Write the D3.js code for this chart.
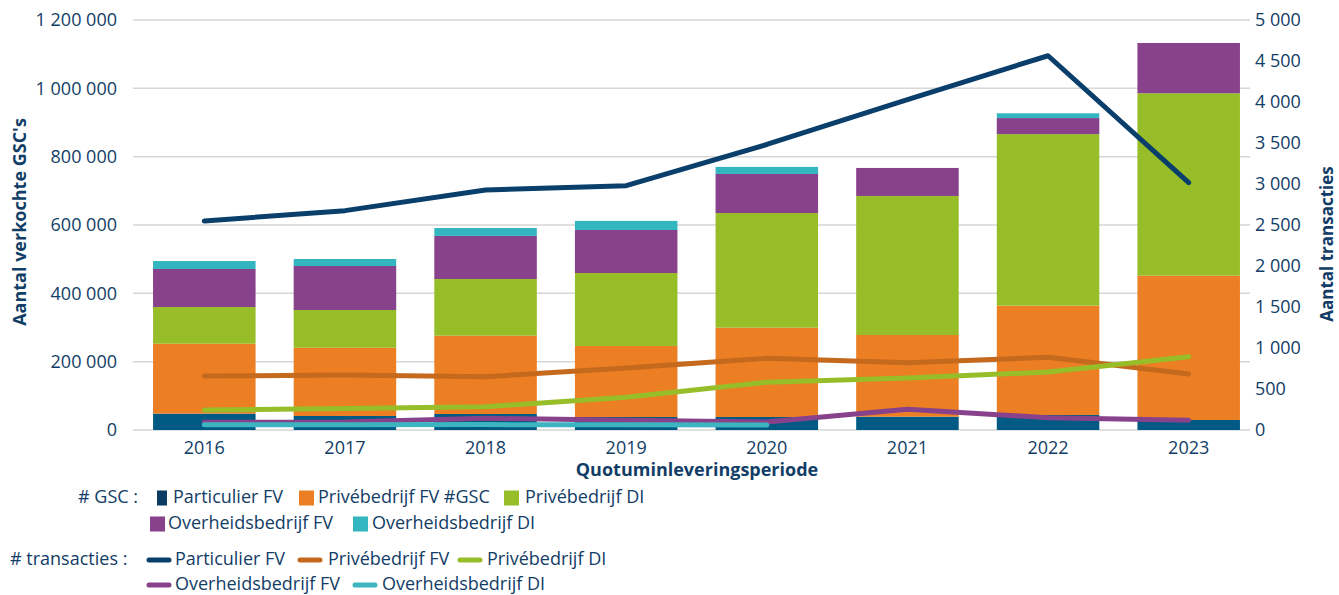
<!DOCTYPE html>
<html>
<head>
<meta charset="utf-8">
<script src="https://cdn.jsdelivr.net/npm/d3@7"></script>
<style>
  body { margin: 0; background: #fff; }
  svg { display: block; font-family: "Open Sans", "Noto Sans", sans-serif; }
  .tick-label { fill: #123d66; font-size: 18px; }
  .axis-title { fill: #123d66; font-size: 18px; font-weight: 700; }
  .legend text { fill: #123d66; font-size: 18px; }
</style>
</head>
<body>
<div id="chart"></div>
<script>
// years on the x axis
const years = ["2016", "2017", "2018", "2019", "2020", "2021", "2022", "2023"];

// stacked bars: number of sold GSC's (left axis)
const gscParticulierFV   = [48000, 41000, 46800, 38000, 38000, 39000, 44000, 29300];
const gscPrivebedrijfFV  = [204600, 199900, 229200, 208000, 261500, 239000, 320000, 422400];
const gscPrivebedrijfDI  = [107400, 110300, 166000, 213500, 335500, 407000, 502000, 533800];
const gscOverheidFV      = [111200, 128800, 126000, 125900, 114300, 82000, 47000, 147200];
const gscOverheidDI      = [23400, 20500, 23200, 26600, 20700, 0, 14000, 0];

// lines: number of transactions (right axis)
const trParticulierFV  = [2549, 2675, 2927, 2980, 3482, 4030, 4564, 3016];
const trPrivebedrijfFV = [659, 670, 650, 756, 874, 821, 887, 683];
const trPrivebedrijfDI = [244, 262, 284, 399, 582, 634, 707, 894];
const trOverheidFV     = [94, 97, 143, 118, 98, 252, 150, 118];
const trOverheidDI     = [64, 63, 66, 63, 62, null, null, null];

// axis ticks
const leftTicks = [0, 200000, 400000, 600000, 800000, 1000000, 1200000];
const rightTicks = [0, 500, 1000, 1500, 2000, 2500, 3000, 3500, 4000, 4500, 5000];

const barSeries = [
    {key: "Particulier FV", values: gscParticulierFV, colour: "#005a84", legend: "Particulier FV"},
    {key: "Privébedrijf FV", values: gscPrivebedrijfFV, colour: "#ec7e24", legend: "Privébedrijf FV #GSC"},
    {key: "Privébedrijf DI", values: gscPrivebedrijfDI, colour: "#97bd28", legend: "Privébedrijf DI"},
    {key: "Overheidsbedrijf FV", values: gscOverheidFV, colour: "#88418b", legend: "Overheidsbedrijf FV"},
    {key: "Overheidsbedrijf DI", values: gscOverheidDI, colour: "#34b6c0", legend: "Overheidsbedrijf DI"}
];

const lineSeries = [
    {key: "Particulier FV", values: trParticulierFV, colour: "#0a3f6b"},
    {key: "Privébedrijf FV", values: trPrivebedrijfFV, colour: "#c5691d"},
    {key: "Privébedrijf DI", values: trPrivebedrijfDI, colour: "#97bd28"},
    {key: "Overheidsbedrijf FV", values: trOverheidFV, colour: "#88418b"},
    {key: "Overheidsbedrijf DI", values: trOverheidDI, colour: "#3db5c0"}
];

const width = 1339;
const height = 595;
const plotLeft = 133, plotRight = 1250, plotTop = 20, plotBottom = 430;

const nl = d3.formatLocale({decimal: ",", thousands: "\u00a0", grouping: [3], currency: ["", ""]});
const fmt = nl.format(",");

const svg = d3.select("#chart").append("svg")
    .attr("width", width)
    .attr("height", height);

const x = d3.scaleBand()
    .domain(years)
    .range([134, 1259])
    .paddingInner(0.271)
    .paddingOuter(0.1355);

const yLeft = d3.scaleLinear().domain([0, 1200000]).range([plotBottom, plotTop]);
const yRight = d3.scaleLinear().domain([0, 5000]).range([plotBottom, plotTop]);

// gridlines
svg.append("g")
    .selectAll("line")
    .data(leftTicks)
    .join("line")
    .attr("x1", plotLeft)
    .attr("x2", plotRight)
    .attr("y1", d => yLeft(d))
    .attr("y2", d => yLeft(d))
    .attr("stroke", "#d6d6d6")
    .attr("stroke-width", 1.5);

// left tick labels
svg.append("g")
    .selectAll("text")
    .data(leftTicks)
    .join("text")
    .attr("class", "tick-label")
    .attr("x", 117)
    .attr("y", d => yLeft(d))
    .attr("dy", "0.36em")
    .attr("text-anchor", "end")
    .text(d => fmt(d));

// right tick labels
svg.append("g")
    .selectAll("text")
    .data(rightTicks)
    .join("text")
    .attr("class", "tick-label")
    .attr("x", 1255)
    .attr("y", d => yRight(d))
    .attr("dy", "0.36em")
    .text(d => fmt(d));

// x tick labels
svg.append("g")
    .selectAll("text")
    .data(years)
    .join("text")
    .attr("class", "tick-label")
    .attr("x", d => x(d) + x.bandwidth() / 2)
    .attr("y", 448)
    .attr("dy", "0.36em")
    .attr("text-anchor", "middle")
    .text(d => d);

// stack the bars
const table = years.map((yr, i) => {
    const row = {year: yr};
    barSeries.forEach(s => { row[s.key] = s.values[i]; });
    return row;
});
const stacked = d3.stack().keys(barSeries.map(s => s.key))(table);

svg.append("g")
    .selectAll("g")
    .data(stacked)
    .join("g")
    .attr("fill", (d, i) => barSeries[i].colour)
    .selectAll("rect")
    .data(d => d.filter(p => p[1] - p[0] > 0))
    .join("rect")
    .attr("x", d => x(d.data.year))
    .attr("width", x.bandwidth())
    .attr("y", d => yLeft(d[1]))
    .attr("height", d => yLeft(d[0]) - yLeft(d[1]));

// lines
const line = d3.line()
    .defined(d => d.v != null)
    .x(d => x(d.year) + x.bandwidth() / 2)
    .y(d => yRight(d.v));

svg.append("g")
    .selectAll("path")
    .data(lineSeries)
    .join("path")
    .attr("fill", "none")
    .attr("stroke", d => d.colour)
    .attr("stroke-width", 5)
    .attr("stroke-linecap", "round")
    .attr("stroke-linejoin", "round")
    .attr("d", d => line(years.map((yr, i) => ({year: yr, v: d.values[i]}))));

// axis titles
svg.append("text")
    .attr("class", "axis-title")
    .attr("transform", "translate(20,222) rotate(-90)")
    .attr("dy", "0.36em")
    .attr("text-anchor", "middle")
    .text("Aantal verkochte GSC's");

svg.append("text")
    .attr("class", "axis-title")
    .style("font-size", "17px")
    .attr("transform", "translate(1327,244) rotate(-90)")
    .attr("dy", "0.36em")
    .attr("text-anchor", "middle")
    .text("Aantal transacties");

svg.append("text")
    .attr("class", "axis-title")
    .attr("x", 697)
    .attr("y", 470)
    .attr("dy", "0.36em")
    .attr("text-anchor", "middle")
    .text("Quotuminleveringsperiode");

// legend
const legend = svg.append("g").attr("class", "legend");

legend.append("text").attr("x", 138).attr("y", 497).attr("dy", "0.36em")
    .attr("text-anchor", "end").text("# GSC :");
legend.append("text").attr("x", 10).attr("y", 559).attr("dy", "0.36em")
    .text("# transacties :");

// swatch slots for the bar legend (row, swatch left, swatch width, text left)
const barLegendSlots = [
    {y: 498, sx: 157, sw: 10, tx: 173},
    {y: 498, sx: 299, sw: 15, tx: 318},
    {y: 498, sx: 504, sw: 15, tx: 525},
    {y: 524, sx: 150, sw: 15, tx: 168},
    {y: 524, sx: 353, sw: 15, tx: 372}
];
barSeries.forEach((s, i) => {
    const p = barLegendSlots[i];
    legend.append("rect")
        .attr("x", p.sx).attr("y", p.y - 7.5)
        .attr("width", p.sw).attr("height", 15)
        .attr("fill", i === 0 ? "#0b3a63" : s.colour);
    legend.append("text").attr("x", p.tx).attr("y", p.y - 1).attr("dy", "0.36em").text(s.legend);
});

const lineLegendSlots = [
    {y: 560, lx: 147, tx: 175},
    {y: 560, lx: 298, tx: 328},
    {y: 560, lx: 458, tx: 487},
    {y: 585, lx: 147, tx: 175},
    {y: 585, lx: 353, tx: 382}
];
lineSeries.forEach((s, i) => {
    const p = lineLegendSlots[i];
    legend.append("line")
        .attr("x1", p.lx + 2).attr("x2", p.lx + 22)
        .attr("y1", p.y).attr("y2", p.y)
        .attr("stroke", s.colour)
        .attr("stroke-width", 5)
        .attr("stroke-linecap", "round");
    legend.append("text").attr("x", p.tx).attr("y", p.y - 1).attr("dy", "0.36em").text(s.key);
});
</script>
</body>
</html>
